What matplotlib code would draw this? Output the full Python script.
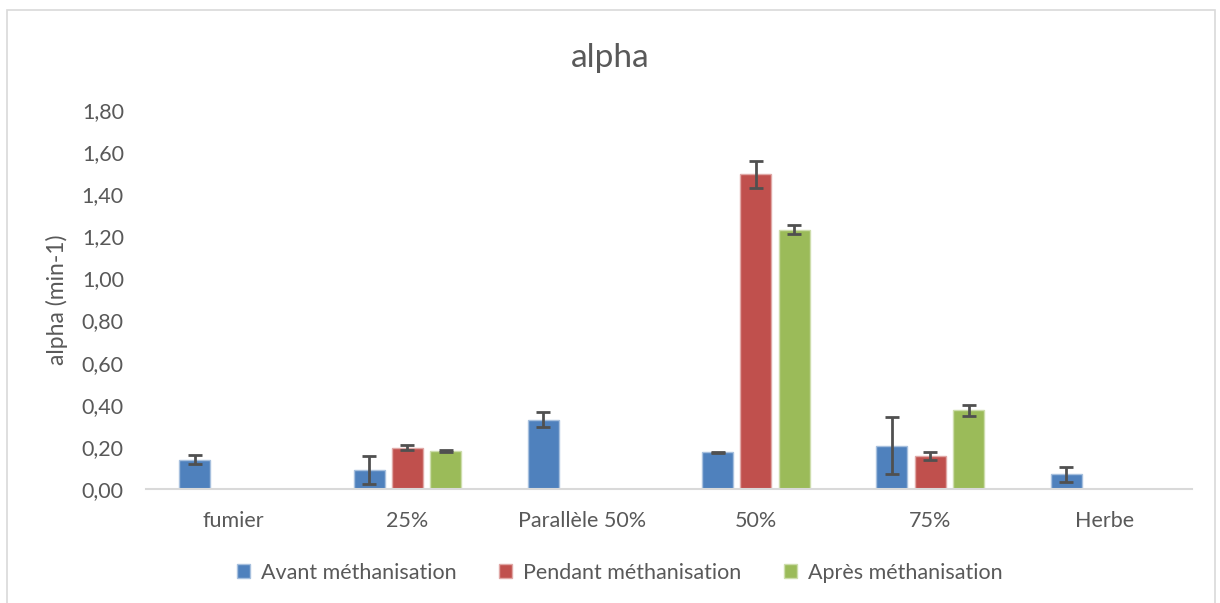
import matplotlib
matplotlib.use("Agg")
import matplotlib.pyplot as plt
import numpy as np
from matplotlib.patches import Rectangle
from matplotlib.ticker import FuncFormatter

categories = ["fumier", "25%", "Parallèle 50%", "50%", "75%", "Herbe"]
series_names = ["Avant méthanisation", "Pendant méthanisation", "Après méthanisation"]
avant = [0.14, 0.09, 0.33, 0.175, 0.205, 0.07]
avant_err = [0.02, 0.068, 0.036, 0.002, 0.135, 0.035]
pendant = [np.nan, 0.195, np.nan, 1.495, 0.157, np.nan]
pendant_err = [0, 0.012, 0, 0.064, 0.02, 0]
apres = [np.nan, 0.18, np.nan, 1.232, 0.375, np.nan]
apres_err = [0, 0.004, 0, 0.022, 0.026, 0]
yticks = [0.0, 0.2, 0.4, 0.6, 0.8, 1.0, 1.2, 1.4, 1.6, 1.8]

colors = ["#4F81BD", "#C0504D", "#9BBB59"]
edges = ["#A7C0DE", "#E0A8A6", "#CDDDAC"]
txt = "#595959"

plt.rcParams['font.family'] = ['Lato', 'DejaVu Sans']

fig = plt.figure(figsize=(12.2, 6.03), dpi=100)
ax = fig.add_axes([0.1197, 0.189, 0.857, 0.6286])

x = np.arange(len(categories))
offs = [-0.22, 0.0, 0.22]
w = 0.178
handles = []
for i, (vals, errs) in enumerate([(avant, avant_err), (pendant, pendant_err), (apres, apres_err)]):
    v = np.array(vals, dtype=float)
    e = np.array(errs, dtype=float)
    mask = ~np.isnan(v)
    b = ax.bar(x[mask] + offs[i], v[mask], width=w, color=colors[i], edgecolor=edges[i],
               linewidth=1, label=series_names[i], zorder=2)
    ax.errorbar(x[mask] + offs[i], v[mask], yerr=e[mask], fmt='none', ecolor='#505050',
                elinewidth=2, capsize=5, capthick=2, zorder=3)
    handles.append(b)

ax.set_xlim(-0.5, len(categories) - 0.5)
ax.set_ylim(0, 1.8)
ax.set_yticks(yticks)
ax.yaxis.set_major_formatter(FuncFormatter(lambda v, p: f"{v:.2f}".replace('.', ',')))
ax.set_xticks(x)
ax.set_xticklabels(categories)
for s in ['top', 'right', 'left']:
    ax.spines[s].set_visible(False)
ax.spines['bottom'].set_color('#D9D9D9')
ax.spines['bottom'].set_linewidth(1.5)
ax.tick_params(axis='both', length=0, labelsize=15.5, colors=txt)
ax.tick_params(axis='y', pad=16)
ax.tick_params(axis='x', pad=16)
ax.set_ylabel("alpha (min-1)", fontsize=16.5, color=txt, labelpad=10)

fig.text(0.5, 0.903, "alpha", ha='center', va='center', fontsize=24, color=txt)

fig.legend(handles=handles, labels=series_names, loc='center', bbox_to_anchor=(0.508, 0.05),
           ncol=3, frameon=False, fontsize=15.5, labelcolor=txt, handlelength=0.6,
           handleheight=0.6, handletextpad=0.5, columnspacing=2.0)

fig.patches.append(Rectangle((7 / 1220, -0.05), 1208 / 1220, 1 - 10 / 603 + 0.05,
                             transform=fig.transFigure, fill=False, edgecolor='#D9D9D9',
                             linewidth=1.2))

fig.savefig("out.png", dpi=100)
